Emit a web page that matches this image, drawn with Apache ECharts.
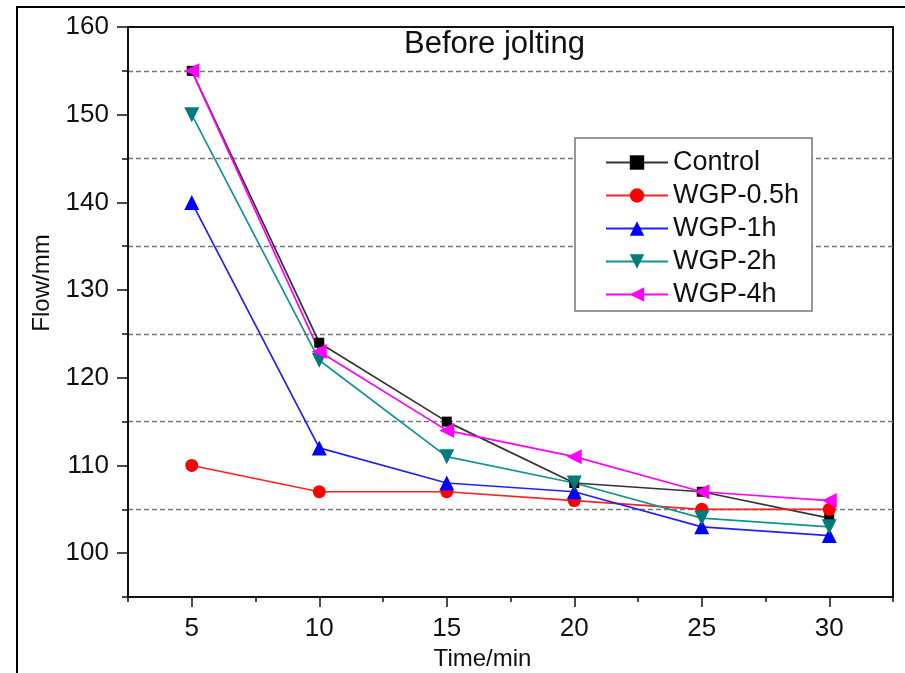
<!DOCTYPE html>
<html>
<head>
<meta charset="utf-8">
<script src="https://cdn.jsdelivr.net/npm/echarts@6/dist/echarts.min.js"></script>
<style>
  html, body { margin: 0; padding: 0; background: #ffffff; }
  #chart { width: 905px; height: 673px; }
</style>
</head>
<body>
<div id="chart"></div>
<script>
// Flow over time for each treatment, before jolting
const times = [5, 10, 15, 20, 25, 30];
const control = [155, 124, 115, 108, 107, 104];
const wgp05 = [110, 107, 107, 106, 105, 105];
const wgp1 = [140, 112, 108, 107, 103, 102];
const wgp2 = [150, 122, 111, 108, 104, 103];
const wgp4 = [155, 123, 114, 111, 107, 106];

const xMajorTicks = [5, 10, 15, 20, 25, 30];
const yMajorTicks = [100, 110, 120, 130, 140, 150, 160];

const FONT = 'Liberation Sans, Arial, sans-serif';

function pairs(values) {
  return times.map((t, i) => [t, values[i]]);
}

function lineSeries(name, values, symbol, size, markerColor, lineColor, rotate) {
  return {
    name: name,
    type: 'line',
    xAxisIndex: 0,
    yAxisIndex: 0,
    data: pairs(values),
    symbol: symbol,
    symbolSize: size,
    symbolRotate: rotate || 0,
    showAllSymbol: true,
    itemStyle: { color: markerColor },
    lineStyle: { color: lineColor, width: 1.7 },
    emphasis: { disabled: true },
    animation: false
  };
}

const chart = echarts.init(document.getElementById('chart'), null, { renderer: 'canvas' });

chart.setOption({
  backgroundColor: '#ffffff',
  animation: false,
  textStyle: { fontFamily: FONT },
  title: {
    text: 'Before jolting',
    left: 404,
    top: 29,
    padding: 0,
    textStyle: { fontFamily: FONT, fontSize: 31, fontWeight: 'normal', color: '#111' }
  },
  grid: {
    left: 128, top: 27, right: 12, bottom: 76,
    outerBoundsMode: 'none',
    containLabel: false,
    show: true,
    borderColor: '#111',
    borderWidth: 2,
    backgroundColor: 'transparent'
  },
  legend: {
    left: 575,
    top: 138,
    orient: 'vertical',
    padding: [11, 13, 3, 30],
    itemGap: 6,
    itemWidth: 62,
    itemHeight: 18,
    itemTextGap: 8,
    borderColor: '#777',
    borderWidth: 1.5,
    backgroundColor: '#ffffff',
    textStyle: { fontFamily: FONT, fontSize: 27, lineHeight: 27, color: '#111' },
    data: ['Control', 'WGP-0.5h', 'WGP-1h', 'WGP-2h', 'WGP-4h']
  },
  xAxis: [
    {
      type: 'value',
      position: 'bottom',
      min: 2.5,
      max: 32.5,
      name: 'Time/min',
      nameLocation: 'middle',
      nameGap: 42,
      nameTextStyle: { fontFamily: FONT, fontSize: 24, color: '#111', padding: [0, 56, 0, 0] },
      axisLine: { show: true, onZero: false, lineStyle: { color: '#111', width: 2 } },
      axisTick: { show: true, inside: false, length: 10, customValues: xMajorTicks, lineStyle: { color: '#111', width: 1.5 } },
      axisLabel: { show: true, customValues: xMajorTicks, margin: 19, fontFamily: FONT, fontSize: 26, color: '#111' },
      splitLine: { show: false }
    },
    {
      type: 'value',
      position: 'bottom',
      min: 2.5,
      max: 32.5,
      interval: 5,
      axisLine: { show: false },
      axisTick: { show: true, inside: false, length: 5, lineStyle: { color: '#111', width: 1.5 } },
      axisLabel: { show: false },
      splitLine: { show: false }
    }
  ],
  yAxis: [
    {
      type: 'value',
      position: 'left',
      min: 95,
      max: 160,
      name: 'Flow/mm',
      nameLocation: 'middle',
      nameGap: 74,
      nameRotate: 90,
      nameTextStyle: { fontFamily: FONT, fontSize: 24, color: '#111', padding: [0, 0, 0, 58] },
      axisLine: { show: true, onZero: false, lineStyle: { color: '#111', width: 2 } },
      axisTick: { show: true, inside: false, length: 11, customValues: yMajorTicks, lineStyle: { color: '#111', width: 1.5 } },
      axisLabel: { show: true, customValues: yMajorTicks, margin: 19, fontFamily: FONT, fontSize: 26, color: '#111' },
      splitLine: { show: false }
    },
    {
      // half-step ticks with the dashed guide lines at 105, 115, ... 155
      type: 'value',
      position: 'left',
      min: 95,
      max: 160,
      interval: 10,
      axisLine: { show: false },
      axisTick: { show: true, inside: false, length: 6, lineStyle: { color: '#111', width: 1.5 } },
      axisLabel: { show: false },
      splitLine: {
        show: true,
        showMinLine: false,
        showMaxLine: false,
        lineStyle: { color: '#777', width: 1.3, type: [5, 3] }
      }
    }
  ],
  graphic: [
    {
      type: 'rect',
      silent: true,
      shape: { x: 17, y: 7, width: 1000, height: 1000 },
      style: { fill: null, stroke: '#000', lineWidth: 2 }
    }
  ],
  series: [
    lineSeries('Control', control, 'rect', 10, '#000000', '#333333'),
    lineSeries('WGP-0.5h', wgp05, 'circle', 13, '#ff0000', '#ff2020'),
    lineSeries('WGP-1h', wgp1, 'triangle', 15, '#0000ff', '#2020ff'),
    lineSeries('WGP-2h', wgp2, 'triangle', 15, '#007b7b', '#119393', 180),
    lineSeries('WGP-4h', wgp4, 'triangle', 15, '#ff00ff', '#ff00ff', 90)
  ]
});
</script>
</body>
</html>
